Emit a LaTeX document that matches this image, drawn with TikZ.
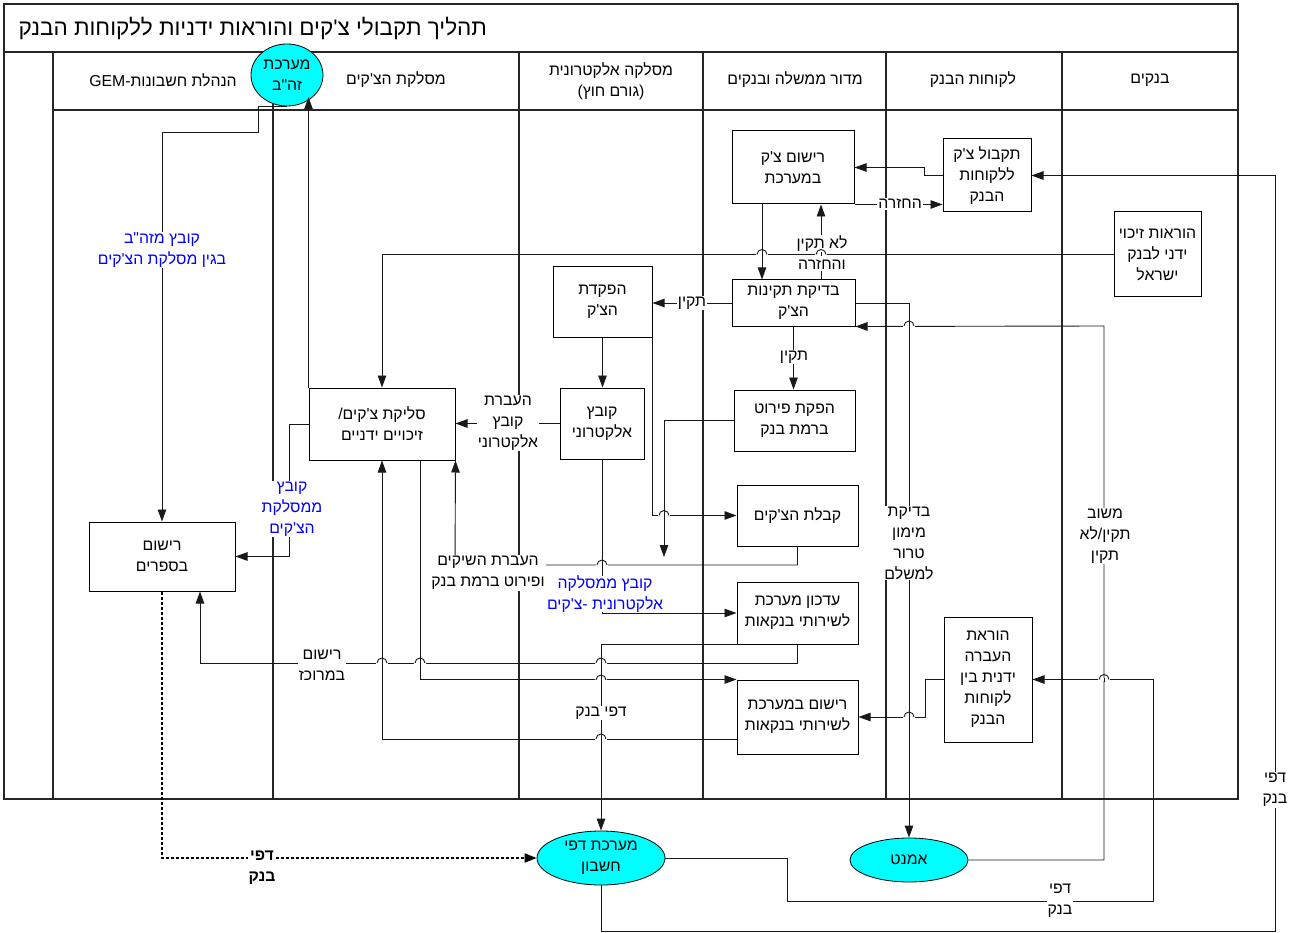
\documentclass[tikz,border=0pt]{standalone}
\usepackage{fontspec}
\setmainfont{Liberation Sans}
\newfontfamily\heb[Script=Hebrew,Ligatures=TeXOff]{Liberation Sans}
\TeXXeTstate=1
\usetikzlibrary{arrows.meta,shapes.geometric}
\definecolor{aqua}{RGB}{0,255,255}
% one right-to-left line of text
\newcommand\hb[1]{\beginR #1\endR}
% line jump of a horizontal connector over a vertical one
\newcommand\linehop[2]{%
  \fill[white] (#1-5.6,#2-1.3) rectangle (#1+5.6,#2+1.3);
  \draw[conn] (#1,#2-2) -- (#1,#2+2);
  \draw[conn] (#1-5,#2) arc[start angle=180,end angle=360,radius=5];}
\tikzset{
  txt/.style={font=\heb\fontsize{15.8}{21}\selectfont, align=center},
  frameline/.style={line width=1.5pt, draw=black!85},
  box/.style={txt, draw, line width=1pt, fill=white, inner sep=0pt},
  term/.style={txt, ellipse, draw, line width=0.8pt, fill=aqua, inner sep=0pt},
  conn/.style={line width=0.9pt, draw=black!90},
  arr/.style={conn, -{Triangle[length=12pt,width=8.5pt]}},
  dotarr/.style={line width=2pt, dash pattern=on 3pt off 2pt, -{Triangle[length=12pt,width=9pt]}},
  lbl/.style={txt, fill=white, inner sep=1pt},
  bluelbl/.style={lbl, text=blue},
  hdr/.style={txt}
}
\begin{document}
\begin{tikzpicture}[x=1pt,y=-1pt]
\useasboundingbox (0,0) rectangle (1293,933);

% ---------- frame, title and lanes ----------
\draw[frameline] (4,4) rectangle (1238,799);
\draw[frameline] (4,52) -- (1238,52);
\draw[frameline] (53,110) -- (1238,110);
\foreach \lx in {53,273,519,703,886,1062}
  \draw[frameline] (\lx,52) -- (\lx,799);
\node[anchor=west, font=\heb\fontsize{22.5}{26}\selectfont] (title) at (15,28)
  {\hb{תהליך תקבולי צ'קים והוראות ידניות ללקוחות הבנק}};

\node[hdr] (h1) at (163,80) {\hb{הנהלת חשבונות-\beginL GEM\endL}};
\node[hdr] (h2) at (396,80) {\hb{מסלקת הצ'קים}};
\node[hdr] (h3) at (611,81) {\hb{מסלקה אלקטרונית}\\\hb{(גורם חוץ)}};
\node[hdr] (h4) at (795,80) {\hb{מדור ממשלה ובנקים}};
\node[hdr] (h5) at (973,80) {\hb{לקוחות הבנק}};
\node[hdr] (h6) at (1150,80) {\hb{בנקים}};

% ---------- process steps ----------
\node[box, minimum width=88, minimum height=73] (tq) at (987,175.5) {\hb{תקבול צ'ק}\\\hb{ללקוחות}\\\hb{הבנק}};
\node[box, minimum width=122, minimum height=73] (rc) at (793,167.5) {\hb{רישום צ'ק}\\\hb{במערכת}};
\node[box, minimum width=87, minimum height=85] (hz) at (1157.5,254.5) {\hb{הוראות זיכוי}\\\hb{ידני לבנק}\\\hb{ישראל}};
\node[box, minimum width=123, minimum height=46] (bt) at (793.5,303) {\hb{בדיקת תקינות}\\\hb{הצ'ק}};
\node[box, minimum width=99, minimum height=70] (hp) at (602.5,302) {\hb{הפקדת}\\\hb{הצ'ק}};
\node[box, minimum width=84, minimum height=71] (ka) at (602,423.5) {\hb{קובץ}\\\hb{אלקטרוני}};
\node[box, minimum width=146, minimum height=72] (sl) at (382,424) {\hb{סליקת צ'קים/}\\\hb{זיכויים ידניים}};
\node[box, minimum width=121, minimum height=61] (pp) at (794.5,420.5) {\hb{הפקת פירוט}\\\hb{ברמת בנק}};
\node[box, minimum width=121, minimum height=61] (kc) at (797.5,515.5) {\hb{קבלת הצ'קים}};
\node[box, minimum width=146, minimum height=69] (rs) at (162,556.5) {\hb{רישום}\\\hb{בספרים}};
\node[box, minimum width=121, minimum height=62] (ad) at (797.5,613) {\hb{עדכון מערכת}\\\hb{לשירותי בנקאות}};
\node[box, minimum width=121, minimum height=74] (rb) at (797.5,717) {\hb{רישום במערכת}\\\hb{לשירותי בנקאות}};
\node[box, minimum width=88, minimum height=125] (ha) at (988,679.5) {\hb{הוראת}\\\hb{העברה}\\\hb{ידנית בין}\\\hb{לקוחות}\\\hb{הבנק}};

% ---------- systems ----------
\node[term, minimum width=72, minimum height=62] (zhb) at (287,75) {\hb{מערכת}\\\hb{זה"ב}};
\node[term, minimum width=128, minimum height=54] (dpi) at (601,858) {\hb{מערכת דפי}\\\hb{חשבון}};
\node[term, minimum width=118, minimum height=44] (amn) at (909,860) {\hb{אמנט}};
\coordinate (pend) at (664,557);

% ---------- connectors ----------
\draw[arr] (dpi.south) |- (1275,931) |- (tq.east);
\draw[arr] (tq.west) -- ++(-18,0) |- (rc.east);
\draw[arr] (rc.south east) -- (tq.west |- rc.south east);
\draw[arr] (rc.south -| 762,0) -- (bt.north -| 762,0);
\draw[arr] (bt.north -| 821,0) -- (rc.south -| 821,0);
\draw[arr] (bt.west) -- (hp.east |- bt.west);
\draw[arr] (bt.south) -- (bt.south |- pp.north);
\draw[arr] (bt.east) -| (amn.north);
\draw[arr] (amn.east) -| (1104,326) -- (bt.south east);
\draw[arr] (dpi.east) -- (787,858) |- (1153,901) |- (ha.east);
\draw[arr] (ha.west) -- ++(-18,0) |- (rb.east);
\draw[arr] (hp.south) -- (hp.south |- ka.north);
\draw[arr] (ka.west) -- (sl.east |- ka.west);
\draw[arr] (hp.south east) |- (kc.west);
\draw[arr] (pp.west) -| (pend);
\draw[arr] (kc.south) |- (455,565) -- (sl.south east);
\draw[arr] (ka.south) |- (ad.west);
\draw[arr] (ad.south) |- (200,663) -- (rs.south -| 200,0);
\draw[arr] (ad.south west) -| (dpi.north);
\draw[arr] (sl.south -| 420,0) |- (rb.north west);
\draw[arr] (rb.west |- 0,739) -| (sl.south);
\draw[arr] (sl.west) -- ++(-19,0) |- (rs.east);
\draw[arr] (sl.north west) -- (sl.north west |- zhb.south east);
\draw[arr] (zhb.south) -| (258,132) -| (rs.north);
\draw[dotarr] (rs.south) |- (dpi.west);

% ---------- connector labels ----------
\node[lbl] (l1) at (1275,790) {\hb{דפי}\\\hb{בנק}};
\node[lbl] (l2) at (900,204) {\hb{החזרה}};
\node[lbl] (l3) at (822,253) {\hb{לא תקין}\\\hb{והחזרה}};
\node[lbl] (l4) at (692,303) {\hb{תקין}};
\node[lbl] (l5) at (794,357) {\hb{תקין}};
\node[lbl] (l6) at (909,543) {\hb{בדיקת}\\\hb{מימון}\\\hb{טרור}\\\hb{למשלם}};
\node[lbl] (l7) at (1105,536) {\hb{משוב}\\\hb{תקין/לא}\\\hb{תקין}};
\node[lbl] (l8) at (1060,901) {\hb{דפי}\\\hb{בנק}};
\node[lbl] (l9) at (508,423) {\hb{העברת}\\\hb{קובץ}\\\hb{אלקטרוני}};
\node[bluelbl, inner sep=0pt] (l11) at (605,594) {\hb{קובץ ממסלקה}\\\hb{אלקטרונית -צ'קים}};
\node[lbl] (l10) at (488,573) {\hb{העברת השיקים}\\\hb{ופירוט ברמת בנק}};
\node[lbl] (l12) at (322,665) {\hb{רישום}\\\hb{במרוכז}};
\node[lbl] (l13) at (601,713) {\hb{דפי בנק}};
\node[bluelbl] (l14) at (292,509) {\hb{קובץ}\\\hb{ממסלקת}\\\hb{הצ'קים}};
\node[bluelbl] (l15) at (162,250) {\hb{קובץ מזה"ב}\\\hb{בגין מסלקת הצ'קים}};
\node[lbl, font=\heb\bfseries\fontsize{15.8}{21}\selectfont] (l16) at (262,868) {\hb{דפי}\\\hb{בנק}};

% manual credits run over the label of the return path
\draw[arr] (hz.west) -| (sl.north);

% ---------- line jumps ----------
\linehop{762}{254.5}
\linehop{821}{254.5}
\linehop{909}{326}
\linehop{1104}{679.5}
\linehop{909}{717}
\linehop{664}{515.5}
\linehop{602}{565}
\linehop{601}{663}
\linehop{420}{663}
\linehop{382}{663}
\linehop{601}{680}
\linehop{601}{739}
\end{tikzpicture}
\end{document}
